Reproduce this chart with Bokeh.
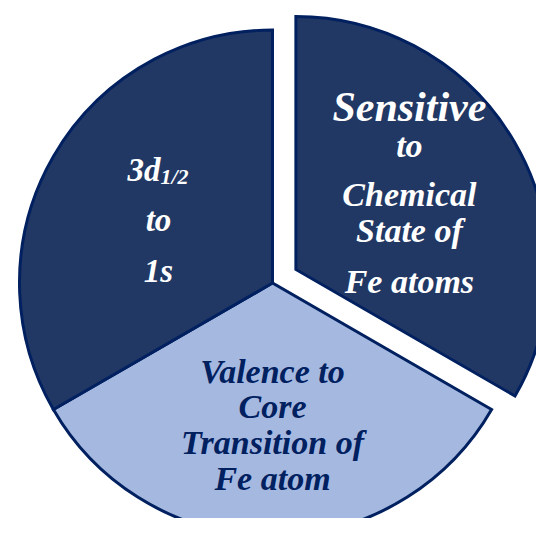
import math
from bokeh.plotting import figure
from bokeh.models import ColumnDataSource, Range1d
from bokeh.core.properties import value
from bokeh.embed import file_html
from bokeh.resources import INLINE

# ---- data ----
categories = ["Sensitive to Chemical State of Fe atoms",
              "Valence to Core Transition of Fe atom",
              "3d1/2 to 1s"]
shares = [1, 1, 1]
fills = ["#213864", "#A5B9E0", "#213864"]
explode = [27, 0, 0]

right_lines = ["Sensitive", "to", "Chemical", "State of", "Fe atoms"]
bottom_lines = ["Valence to", "Core", "Transition of", "Fe atom"]
left_main = "3d"
left_sub = "1/2"
left_lines = ["to", "1s"]

# ---- layout (pixel space, y down) ----
W, H = 536, 518
CX, CY = 272.0, 282.5
R = 253.0
OUTLINE = "#002060"
FONT = value("Liberation Serif")
BASE_FIX = -12  # baseline correction for svg text

p = figure(width=W, height=H, output_backend="svg", toolbar_location=None,
           x_axis_type=None, y_axis_type=None,
           x_range=Range1d(0, W), y_range=Range1d(-H, 0),
           min_border=0, outline_line_color=None)
p.grid.visible = False
p.background_fill_color = "white"
p.border_fill_color = "white"

total = float(sum(shares))
xs, ys, sa, ea = [], [], [], []
apex = []
cum = 0.0
for v, ex in zip(shares, explode):
    a0 = math.pi / 2 - cum / total * 2 * math.pi
    a1 = a0 - v / total * 2 * math.pi
    mid = (a0 + a1) / 2
    ax = CX + ex * math.cos(mid)
    ay = -CY + ex * math.sin(mid)
    xs.append(ax); ys.append(ay); sa.append(a1); ea.append(a0)
    apex.append((ax, ay))
    cum += v

src = ColumnDataSource(dict(x=xs, y=ys, start=sa, end=ea, fill=fills, cat=categories))
p.wedge(x="x", y="y", radius=R, start_angle="start", end_angle="end",
        direction="anticlock", fill_color="fill", line_color=OUTLINE,
        line_width=3, line_join="miter", source=src)

def put(txt, ax, ay, dx, dy, size, color, align="center"):
    p.text(x=[ax + dx], y=[ay - (dy + BASE_FIX)], text=[txt], text_font=FONT,
           text_font_style="bold italic", text_font_size=f"{size}px",
           text_color=color, text_align=align, text_baseline="alphabetic")

# right (exploded) slice
ax, ay = apex[0]
right_dy = [-150.5, -112.5, -63.5, -27.5, 23.5]
right_sz = [42, 34, 34, 34, 34]
for t, dy, s in zip(right_lines, right_dy, right_sz):
    put(t, ax, ay, 113.5, dy, s, "white")

# bottom slice
ax, ay = apex[1]
bottom_dy = [100.5, 135.5, 171.5, 207.5]
for t, dy in zip(bottom_lines, bottom_dy):
    put(t, ax, ay, 0, dy, 34, OUTLINE)

# left slice
ax, ay = apex[2]
put(left_main, ax, ay, -112, -101.5, 33, "white", align="right")
put(left_sub, ax, ay, -112, -94.5, 22, "white", align="left")
for t, dy in zip(left_lines, [-51.5, -0.5]):
    put(t, ax, ay, -114, dy, 33, "white")

open("out.html", "w").write(file_html(p, INLINE))
